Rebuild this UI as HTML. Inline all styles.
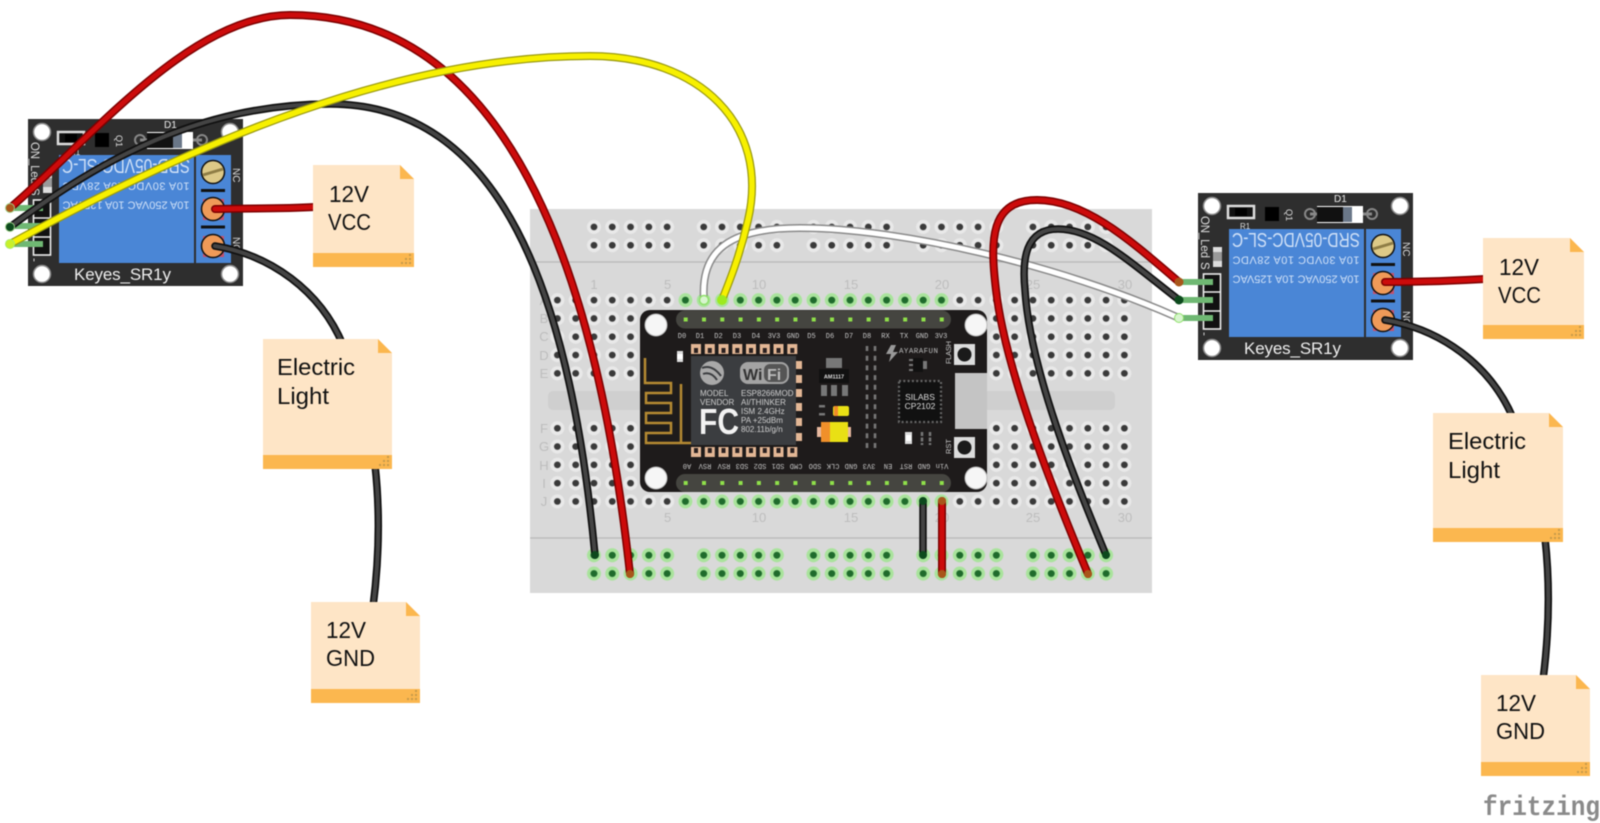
<!DOCTYPE html>
<html><head><meta charset="utf-8"><style>html,body{margin:0;padding:0;background:#fff}svg{display:block;filter:blur(0.4px)}</style></head>
<body>
<svg xmlns="http://www.w3.org/2000/svg" width="1600" height="823" viewBox="0 0 1600 823" font-family="'Liberation Sans',sans-serif">
<defs>
<pattern id="h" patternUnits="userSpaceOnUse" x="548.25" y="291" width="18.29" height="18.3"><circle cx="9.145" cy="9.15" r="7" fill="#e9e9e9"/><circle cx="9.145" cy="9.15" r="3.4" fill="#3a3a3a"/></pattern>
<pattern id="g" patternUnits="userSpaceOnUse" x="548.25" y="291" width="18.29" height="18.3"><circle cx="9.145" cy="9.15" r="7" fill="#a9e39c"/><circle cx="9.145" cy="9.15" r="3.5" fill="#1f6b2c"/></pattern>
<pattern id="gb" patternUnits="userSpaceOnUse" x="548.25" y="546.1" width="18.29" height="18.3"><circle cx="9.145" cy="9.15" r="7" fill="#a9e39c"/><circle cx="9.145" cy="9.15" r="3.5" fill="#1f6b2c"/></pattern>
<g id="relay">
<rect x="28" y="119" width="215" height="167" fill="#2e2e2e"/>
<g fill="#fff" stroke="#8d8d8d" stroke-width="1.5"><circle cx="42" cy="132" r="8.5"/><circle cx="230" cy="132" r="8.5"/><circle cx="42" cy="274" r="8.5"/><circle cx="230" cy="274" r="8.5"/></g>
<rect x="58" y="132" width="26" height="12" fill="#111" stroke="#ddd" stroke-width="2.5"/>
<rect x="65" y="134" width="12" height="8" fill="#000"/>
<rect x="95" y="133" width="14" height="14" fill="#000"/>
<text transform="rotate(90 116 135)" x="116" y="135" font-size="9" fill="#ddd">Q1</text>
<g fill="none" stroke="#888" stroke-width="2"><circle cx="140" cy="140" r="5"/><circle cx="202" cy="140" r="5"/><path d="M140 140H202" stroke-width="3"/></g>
<rect x="147" y="132" width="46" height="17" fill="#fff"/><rect x="147" y="133" width="26" height="15" fill="#111"/><rect x="173" y="133" width="9" height="15" fill="#6a7788"/>
<text x="164" y="128" font-size="10" fill="#eee">D1</text>
<text x="70" y="155" font-size="8" fill="#ddd">R1</text>
<text transform="rotate(90 31 142)" x="31" y="142" font-size="11.5" fill="#ddd" textLength="42">ON_Led</text>
<text transform="rotate(90 31 188)" x="31" y="188" font-size="11.5" fill="#ddd">S</text>
<text transform="rotate(90 31 258)" x="31" y="258" font-size="11.5" fill="#ddd">-</text>
<rect x="43" y="173" width="9" height="20" fill="#ddd"/><rect x="43" y="178" width="9" height="9" fill="#999"/>
<rect x="33.5" y="200" width="17" height="55" fill="#111" stroke="#eee" stroke-width="1.6"/>
<path d="M33.5 218H50M33.5 237H50" stroke="#eee" stroke-width="1.6"/>
<rect x="59" y="155" width="135" height="108" fill="#4a86d6"/>
<rect x="196" y="155" width="35" height="108" fill="#4a86d6"/>
<g fill="#cfe0f7" text-anchor="middle">
<text transform="rotate(180 126 166)" x="126" y="173" font-size="20" textLength="128" lengthAdjust="spacingAndGlyphs">SRD-05VDC-SL-C</text>
<text transform="rotate(180 126 187)" x="126" y="191.500" font-size="11" textLength="127" lengthAdjust="spacing">10A 30VDC 10A 28VDC</text>
<text transform="rotate(180 126 206)" x="126" y="210.500" font-size="11" textLength="127" lengthAdjust="spacing">10A 250VAC 10A 125VAC</text>
</g>
<rect x="203" y="199" width="21" height="21" fill="#c8506a"/><rect x="203" y="236" width="21" height="21" fill="#c8506a"/>
<circle cx="213" cy="172" r="11.500" fill="#ddc987" stroke="#111" stroke-width="1.500"/><path d="M203 175L223 169" stroke="#8f7d45" stroke-width="3"/>
<circle cx="213" cy="209" r="11.500" fill="#ef9a58" stroke="#111" stroke-width="1.500"/>
<circle cx="213" cy="246" r="11.500" fill="#ef9a58" stroke="#111" stroke-width="1.500"/>
<path d="M201 190.500H225M201 227H225" stroke="#111" stroke-width="3"/>
<text transform="rotate(90 233 168)" x="233" y="168" font-size="10" fill="#ddd">NC</text>
<text transform="rotate(90 233 237)" x="233" y="237" font-size="10" fill="#ddd">NO</text>
<text x="74" y="280" font-size="17" fill="#eee" textLength="97">Keyes_SR1y</text>
<path d="M10 208H43M10 226H43M10 244H43" stroke="#6fb873" stroke-width="6"/>
</g>
<g id="notedots" fill="#c79a4a"><rect x="-5" y="-13" width="2" height="2"/><rect x="-5" y="-9" width="2" height="2"/><rect x="-9" y="-9" width="2" height="2"/><rect x="-5" y="-5" width="2" height="2"/><rect x="-9" y="-5" width="2" height="2"/><rect x="-13" y="-5" width="2" height="2"/></g>
</defs>

<!-- breadboard -->
<rect x="530" y="209" width="622" height="384" fill="#d9d9d9"/>
<rect x="548" y="391" width="567" height="19" rx="5" fill="#cfcfcf"/>
<path d="M530 262H1152M530 538H1152" stroke="#b9b9b9" stroke-width="1.2"/>
<rect x="548.25" y="291" width="585.28" height="91.5" fill="url(#h)"/>
<rect x="548.25" y="419.100" width="585.28" height="91.5" fill="url(#h)"/>
<g fill="url(#h)">
<rect x="585" y="218" width="91.45" height="36.600"/><rect x="694.700" y="218" width="91.45" height="36.600"/><rect x="804.450" y="218" width="91.45" height="36.600"/><rect x="914.200" y="218" width="91.45" height="36.600"/><rect x="1023.900" y="218" width="91.45" height="36.600"/>
</g>
<g fill="url(#g)"><rect x="676.550" y="291" width="274.350" height="18.3"/><rect x="676.550" y="492.300" width="274.350" height="18.3"/></g>
<g fill="url(#gb)">
<rect x="585" y="546.100" width="91.45" height="36.600"/><rect x="694.700" y="546.100" width="91.45" height="36.600"/><rect x="804.450" y="546.100" width="91.45" height="36.600"/><rect x="914.200" y="546.100" width="91.45" height="36.600"/><rect x="1023.900" y="546.100" width="91.45" height="36.600"/>
</g>
<g font-size="13" fill="#bdbdbd" text-anchor="middle">
<text x="594" y="289">1</text><text x="667.600" y="289">5</text><text x="759" y="289">10</text><text x="851" y="289">15</text><text x="942" y="289">20</text><text x="1033" y="289">25</text><text x="1125" y="289">30</text>
<text x="667.600" y="522">5</text><text x="759" y="522">10</text><text x="851" y="522">15</text><text x="942" y="522">20</text><text x="1033" y="522">25</text><text x="1125" y="522">30</text>
<text x="544" y="305">A</text><text x="544" y="323">B</text><text x="544" y="341">C</text><text x="544" y="360">D</text><text x="544" y="378">E</text>
<text x="544" y="433">F</text><text x="544" y="451">G</text><text x="544" y="470">H</text><text x="544" y="488">I</text><text x="544" y="506">J</text>
</g>

<!-- NodeMCU -->
<rect x="640" y="310" width="347" height="182" rx="10" fill="#1e1b1b"/>
<g fill="#f6f6f6" stroke="#bdbdbd"><circle cx="656" cy="325" r="11"/><circle cx="656" cy="478" r="11"/><circle cx="976" cy="325" r="11"/><circle cx="976" cy="478" r="11"/></g>
<rect x="676" y="310.500" width="275" height="18" rx="9" fill="#454540"/>
<rect x="676" y="474" width="275" height="18" rx="9" fill="#454540"/>
<g stroke="#8fe04a" stroke-width="4" stroke-dasharray="4 14.29">
<path d="M683.700 319.500H945"/><path d="M683.700 483H945"/>
</g>
<g font-family="'Liberation Mono',monospace" font-size="7" fill="#c8c8c8" text-anchor="middle">
<text x="682" y="338">D0</text><text x="700" y="338">D1</text><text x="718.500" y="338">D2</text><text x="737" y="338">D3</text><text x="756" y="338">D4</text><text x="774" y="338">3V3</text><text x="793" y="338">GND</text><text x="811.500" y="338">D5</text><text x="830" y="338">D6</text><text x="849" y="338">D7</text><text x="867" y="338">D8</text><text x="885.500" y="338">RX</text><text x="904" y="338">TX</text><text x="922" y="338">GND</text><text x="941" y="338">3V3</text>
<text transform="rotate(180 687 467)" x="687" y="470">A0</text><text transform="rotate(180 705 467)" x="705" y="470">RSV</text><text transform="rotate(180 724 467)" x="724" y="470">RSV</text><text transform="rotate(180 742 467)" x="742" y="470">SD3</text><text transform="rotate(180 760 467)" x="760" y="470">SD2</text><text transform="rotate(180 778 467)" x="778" y="470">SD1</text><text transform="rotate(180 796 467)" x="796" y="470">CMD</text><text transform="rotate(180 815 467)" x="815" y="470">SDO</text><text transform="rotate(180 833 467)" x="833" y="470">CLK</text><text transform="rotate(180 851 467)" x="851" y="470">GND</text><text transform="rotate(180 869 467)" x="869" y="470">3V3</text><text transform="rotate(180 888 467)" x="888" y="470">EN</text><text transform="rotate(180 906 467)" x="906" y="470">RST</text><text transform="rotate(180 924 467)" x="924" y="470">GND</text><text transform="rotate(180 942 467)" x="942" y="470">Vin</text>
</g>
<rect x="691" y="356" width="105" height="89" fill="#3b3d40"/>
<path d="M645 358V383H671V393H646V403H671V413H646V423H671V433H646V443H691M681 384V443" fill="none" stroke="#b58a32" stroke-width="2.500"/>
<rect x="677" y="351" width="6" height="11" fill="#ddd"/><rect x="677" y="354" width="6" height="5" fill="#fff"/>
<g fill="#e3b795">
<rect x="691" y="344" width="10" height="10"/><rect x="704.800" y="344" width="10" height="10"/><rect x="718.500" y="344" width="10" height="10"/><rect x="732.300" y="344" width="10" height="10"/><rect x="746" y="344" width="10" height="10"/><rect x="759.800" y="344" width="10" height="10"/><rect x="773.500" y="344" width="10" height="10"/><rect x="787.300" y="344" width="10" height="10"/>
<rect x="691" y="447" width="10" height="10"/><rect x="704.800" y="447" width="10" height="10"/><rect x="718.500" y="447" width="10" height="10"/><rect x="732.300" y="447" width="10" height="10"/><rect x="746" y="447" width="10" height="10"/><rect x="759.800" y="447" width="10" height="10"/><rect x="773.500" y="447" width="10" height="10"/><rect x="787.300" y="447" width="10" height="10"/>
<rect x="796" y="361" width="6" height="8"/><rect x="796" y="375" width="6" height="8"/><rect x="796" y="389" width="6" height="8"/><rect x="796" y="403" width="6" height="8"/><rect x="796" y="418" width="6" height="8"/><rect x="796" y="433" width="6" height="8"/>
</g>
<g fill="#2a2020"><rect x="694" y="348" width="4" height="5"/><rect x="707.800" y="348" width="4" height="5"/><rect x="721.500" y="348" width="4" height="5"/><rect x="735.300" y="348" width="4" height="5"/><rect x="749" y="348" width="4" height="5"/><rect x="762.800" y="348" width="4" height="5"/><rect x="776.500" y="348" width="4" height="5"/><rect x="790.300" y="348" width="4" height="5"/>
<rect x="694" y="448" width="4" height="5"/><rect x="707.800" y="448" width="4" height="5"/><rect x="721.500" y="448" width="4" height="5"/><rect x="735.300" y="448" width="4" height="5"/><rect x="749" y="448" width="4" height="5"/><rect x="762.800" y="448" width="4" height="5"/><rect x="776.500" y="448" width="4" height="5"/><rect x="790.300" y="448" width="4" height="5"/></g>
<circle cx="712" cy="373" r="12" fill="#a9a9a9"/><path d="M702 368Q712 364 721 376M703 374Q711 371 717 380" fill="none" stroke="#3b3d40" stroke-width="2"/>
<rect x="740" y="362" width="49" height="22" rx="8" fill="#a3a3a3"/><rect x="764" y="364" width="23" height="18" rx="6" fill="#555"/>
<text x="743" y="380" font-size="16" font-weight="bold" fill="#333">Wi</text><text x="767" y="380" font-size="16" font-weight="bold" fill="#bbb">Fi</text>
<g font-size="8" fill="#cfcfcf"><text x="700" y="396">MODEL</text><text x="700" y="405">VENDOR</text><text x="741" y="396">ESP8266MOD</text><text x="741" y="405">AI/THINKER</text><text x="741" y="414">ISM 2.4GHz</text><text x="741" y="423">PA +25dBm</text><text x="741" y="432">802.11b/g/n</text></g>
<text x="699" y="434" font-size="36" font-weight="bold" fill="#f2f2f2" textLength="40" lengthAdjust="spacingAndGlyphs">FC</text>
<rect x="826" y="358" width="16" height="10" fill="#777"/><rect x="819" y="369" width="30" height="14" fill="#111"/>
<text x="834" y="378.500" font-size="5.500" fill="#ddd" text-anchor="middle" font-weight="bold">AM1117</text>
<g fill="#777"><rect x="821" y="385" width="6" height="11"/><rect x="831" y="385" width="6" height="11"/><rect x="842" y="385" width="6" height="11"/><rect x="819" y="405" width="6" height="2.500"/><rect x="819" y="413" width="6" height="2.500"/></g>
<rect x="833" y="406" width="16" height="10" rx="2" fill="#e9e015"/><rect x="834" y="406" width="4" height="10" fill="#ef8a2a"/>
<rect x="817" y="427" width="34" height="10" fill="#e8b9a0"/><rect x="821" y="422" width="27" height="20" fill="#e9e015"/><rect x="821" y="422" width="9" height="20" fill="#f0902a"/>
<path d="M867 346V449M875 346V449" stroke="#777" stroke-width="2.600" stroke-dasharray="5 4.700"/>
<path d="M891 345H896L893 352H898L889 362L891 354H886Z" fill="#999"/>
<text x="899" y="353" font-size="7.500" fill="#bbb" textLength="39" font-family="'Liberation Mono',monospace">AYARAFUN</text>
<rect x="913" y="358" width="10" height="14" fill="#111"/><g fill="#777"><rect x="909" y="359" width="4" height="2"/><rect x="909" y="364" width="4" height="2"/><rect x="909" y="369" width="4" height="2"/><rect x="923" y="361" width="4" height="8"/></g>
<rect x="899" y="381" width="42" height="41" fill="#111"/>
<rect x="899" y="381" width="42" height="41" fill="none" stroke="#666" stroke-width="2.200" stroke-dasharray="2 2.300"/>
<g font-size="8.500" fill="#ddd" text-anchor="middle"><text x="920" y="400">SILABS</text><text x="920" y="409">CP2102</text></g>
<rect x="955" y="373" width="32" height="56" fill="#c4c4c4"/>
<rect x="954" y="344" width="21" height="21" fill="#dcdcdc"/><circle cx="964.500" cy="354.500" r="7" fill="#1a1a1a"/>
<rect x="954" y="437" width="21" height="21" fill="#dcdcdc"/><circle cx="964.500" cy="447.500" r="7" fill="#1a1a1a"/>
<text transform="rotate(-90 951 364)" x="951" y="364" font-size="7.500" fill="#ccc" textLength="23">FLASH</text>
<text transform="rotate(-90 951 454)" x="951" y="454" font-size="7.500" fill="#ccc">RST</text>
<rect x="905" y="432" width="7" height="12" fill="#ddd"/><rect x="906" y="435" width="5" height="6" fill="#fff"/>
<path d="M922 432V445M930 432V445" stroke="#777" stroke-width="2.500" stroke-dasharray="4 1.500"/>

<!-- relays -->
<use href="#relay"/>
<use href="#relay" transform="translate(1170 74)"/>

<!-- wires -->
<g fill="none" stroke-linecap="round">
<path d="M215 209C250 208 280 209 315 207" stroke="#7c0000" stroke-width="8"/><path d="M215 209C250 208 280 209 315 207" stroke="#cc0b0b" stroke-width="5"/>
<path d="M1385 282C1420 282 1450 281 1485 279" stroke="#7c0000" stroke-width="8"/><path d="M1385 282C1420 282 1450 281 1485 279" stroke="#cc0b0b" stroke-width="5"/>
<path d="M215 246C270 255 320 290 343 345" stroke="#111" stroke-width="7.500"/><path d="M215 246C270 255 320 290 343 345" stroke="#444" stroke-width="4"/>
<path d="M1385 320C1440 329 1490 364 1513 418" stroke="#111" stroke-width="7.500"/><path d="M1385 320C1440 329 1490 364 1513 418" stroke="#444" stroke-width="4"/>
<path d="M375 465C380 510 379 560 373 607" stroke="#111" stroke-width="7.500"/><path d="M375 465C380 510 379 560 373 607" stroke="#444" stroke-width="4"/>
<path d="M1545 538C1550 583 1549 633 1543 680" stroke="#111" stroke-width="7.500"/><path d="M1545 538C1550 583 1549 633 1543 680" stroke="#444" stroke-width="4"/>

<path d="M923 501V555" stroke="#111" stroke-width="7.500"/><path d="M923 501V555" stroke="#444" stroke-width="4"/>
<path d="M942 501V574" stroke="#7c0000" stroke-width="8"/><path d="M942 501V574" stroke="#cc0b0b" stroke-width="5"/>

<path d="M10 227C100 160 200 104 330 104C500 104 570 290 595 555" stroke="#111" stroke-width="7.500"/><path d="M10 227C100 160 200 104 330 104C500 104 570 290 595 555" stroke="#444" stroke-width="4"/>
<path d="M10 208C90 140 190 15 290 15C520 15 600 300 630 574" stroke="#7c0000" stroke-width="8"/><path d="M10 208C90 140 190 15 290 15C520 15 600 300 630 574" stroke="#cc0b0b" stroke-width="5"/>

<path d="M704 300C700 250 730 228 800 228C900 228 1060 265 1179 318" stroke="#8a8a8a" stroke-width="8"/><path d="M704 300C700 250 730 228 800 228C900 228 1060 265 1179 318" stroke="#fff" stroke-width="5"/>
<path d="M10 244C200 140 400 56 590 56C700 56 770 125 748 220C740 255 730 280 722 300" stroke="#9a9a10" stroke-width="8"/><path d="M10 244C200 140 400 56 590 56C700 56 770 125 748 220C740 255 730 280 722 300" stroke="#f7f000" stroke-width="5.500"/>

<path d="M1179 282C1130 240 1085 200 1037 200C990 200 990 240 996 290C1005 370 1055 495 1088 574" stroke="#7c0000" stroke-width="8"/><path d="M1179 282C1130 240 1085 200 1037 200C990 200 990 240 996 290C1005 370 1055 495 1088 574" stroke="#cc0b0b" stroke-width="5"/>
<path d="M1179 300C1130 262 1095 229 1058 229C1025 229 1022 260 1025 290C1030 370 1075 480 1106 555" stroke="#111" stroke-width="7.500"/><path d="M1179 300C1130 262 1095 229 1058 229C1025 229 1022 260 1025 290C1030 370 1075 480 1106 555" stroke="#444" stroke-width="4"/>
</g>
<g>
<circle cx="10" cy="208" r="4.500" fill="#a8561a" stroke="#9fd08a"/><circle cx="10" cy="227" r="4.500" fill="#0d4a1d" stroke="#9fd08a"/><circle cx="10" cy="244" r="4.500" fill="#c9f02a" stroke="#a6ec6a"/>
<circle cx="704" cy="300" r="4.500" fill="#d8f5cf" stroke="#8fe06a" stroke-width="1.500"/><circle cx="722" cy="300" r="5" fill="#9dea1e"/>
<circle cx="923" cy="501" r="4" fill="#0d4a1d"/><circle cx="942" cy="501" r="4" fill="#a8561a"/><circle cx="923" cy="555" r="4" fill="#0d4a1d"/><circle cx="942" cy="574" r="4" fill="#a8561a"/>
<circle cx="595" cy="555" r="4" fill="#0d4a1d"/><circle cx="630" cy="574" r="4" fill="#a8561a"/><circle cx="1106" cy="555" r="4" fill="#0d4a1d"/><circle cx="1088" cy="574" r="4" fill="#a8561a"/>
<circle cx="1179" cy="282" r="4.500" fill="#a8561a"/><circle cx="1179" cy="300" r="4.500" fill="#0d4a1d"/><circle cx="1179" cy="318" r="4.500" fill="#d8f5cf" stroke="#8fe06a"/>
</g>

<!-- notes -->
<g font-size="23.500" fill="#111">
<path d="M313 165H400L414 179V267H313Z" fill="#fee5c6"/><path d="M400 165L414 179H400Z" fill="#fbb74f"/><rect x="313" y="253" width="101" height="14" fill="#fbb74f"/><use href="#notedots" x="414" y="267"/>
<text x="329" y="202" textLength="40" lengthAdjust="spacingAndGlyphs">12V</text><text x="328" y="230" textLength="43" lengthAdjust="spacingAndGlyphs">VCC</text>
<path d="M1483 238H1570L1584 252V339H1483Z" fill="#fee5c6"/><path d="M1570 238L1584 252H1570Z" fill="#fbb74f"/><rect x="1483" y="325" width="101" height="14" fill="#fbb74f"/><use href="#notedots" x="1584" y="339"/>
<text x="1499" y="275" textLength="40" lengthAdjust="spacingAndGlyphs">12V</text><text x="1498" y="303" textLength="43" lengthAdjust="spacingAndGlyphs">VCC</text>

<path d="M263 339H378L392 353V469H263Z" fill="#fee5c6"/><path d="M378 339L392 353H378Z" fill="#fbb74f"/><rect x="263" y="455" width="129" height="14" fill="#fbb74f"/><use href="#notedots" x="392" y="469"/>
<text x="277" y="375" textLength="78" lengthAdjust="spacingAndGlyphs">Electric</text><text x="277" y="404" textLength="52" lengthAdjust="spacingAndGlyphs">Light</text>
<path d="M1433 413H1549L1563 427V542H1433Z" fill="#fee5c6"/><path d="M1549 413L1563 427H1549Z" fill="#fbb74f"/><rect x="1433" y="528" width="130" height="14" fill="#fbb74f"/><use href="#notedots" x="1563" y="542"/>
<text x="1448" y="449" textLength="78" lengthAdjust="spacingAndGlyphs">Electric</text><text x="1448" y="478" textLength="52" lengthAdjust="spacingAndGlyphs">Light</text>

<path d="M311 602H406L420 616V703H311Z" fill="#fee5c6"/><path d="M406 602L420 616H406Z" fill="#fbb74f"/><rect x="311" y="689" width="109" height="14" fill="#fbb74f"/><use href="#notedots" x="420" y="703"/>
<text x="326" y="638" textLength="40" lengthAdjust="spacingAndGlyphs">12V</text><text x="326" y="666" textLength="49" lengthAdjust="spacingAndGlyphs">GND</text>
<path d="M1481 675H1576L1590 689V776H1481Z" fill="#fee5c6"/><path d="M1576 675L1590 689H1576Z" fill="#fbb74f"/><rect x="1481" y="762" width="109" height="14" fill="#fbb74f"/><use href="#notedots" x="1590" y="776"/>
<text x="1496" y="711" textLength="40" lengthAdjust="spacingAndGlyphs">12V</text><text x="1496" y="739" textLength="49" lengthAdjust="spacingAndGlyphs">GND</text>
</g>

<text x="1483" y="815" font-family="'Liberation Mono',monospace" font-weight="bold" font-size="28" fill="#8a8a8a" textLength="117" lengthAdjust="spacingAndGlyphs">fritzing</text>
</svg>
</body></html>
